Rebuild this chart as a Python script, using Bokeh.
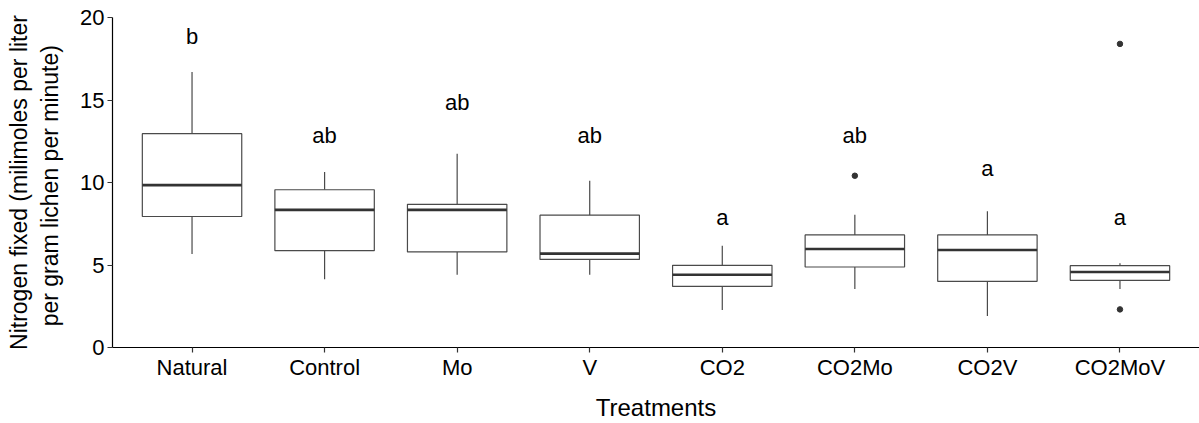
from bokeh.plotting import figure
from bokeh.models import Range1d, ColumnDataSource, FixedTicker
from bokeh.embed import file_html
from bokeh.resources import INLINE
from bokeh.core.properties import value

treatments = ["Natural", "Control", "Mo", "V", "CO2", "CO2Mo", "CO2V", "CO2MoV"]
whisker_low = [5.67, 4.13, 4.41, 4.41, 2.27, 3.55, 1.91, 3.55]
q1 = [7.94, 5.87, 5.79, 5.34, 3.70, 4.88, 4.01, 4.07]
median = [9.84, 8.34, 8.34, 5.69, 4.41, 5.97, 5.91, 4.58]
q3 = [12.96, 9.56, 8.68, 8.02, 4.98, 6.82, 6.82, 4.96]
whisker_high = [16.70, 10.63, 11.74, 10.10, 6.17, 8.04, 8.26, 5.10]
outlier_group = ["CO2Mo", "CO2MoV", "CO2MoV"]
outlier_value = [10.41, 18.40, 2.31]
letters = ["b", "ab", "ab", "ab", "a", "ab", "a", "a"]
letter_y = [18.32, 12.31, 14.33, 12.31, 7.35, 12.31, 10.32, 7.35]

FONT = "Liberation Sans"
EDGE = "#4a4a4a"
MED = "#333333"
BOX_W = 0.75

pos = [i + 1 for i in range(len(treatments))]
src = ColumnDataSource(dict(x=pos, wl=whisker_low, q1=q1, med=median, q3=q3,
                            wh=whisker_high, lab=letters, ly=letter_y,
                            xl=[v - BOX_W / 2 for v in pos],
                            xr=[v + BOX_W / 2 for v in pos]))
out_x = [treatments.index(g) + 1 for g in outlier_group]

p = figure(width=1199, height=423, output_backend="svg", toolbar_location=None,
           x_range=Range1d(0.4, 8.6), y_range=Range1d(0, 20),
           min_border_left=112, min_border_right=0, min_border_top=17,
           min_border_bottom=76)
p.outline_line_color = None
p.xgrid.grid_line_color = None
p.ygrid.grid_line_color = None

# whiskers
p.segment(x0="x", y0="q3", x1="x", y1="wh", source=src, line_color=EDGE, line_width=1.2)
p.segment(x0="x", y0="wl", x1="x", y1="q1", source=src, line_color=EDGE, line_width=1.2)
# boxes
p.vbar(x="x", top="q3", bottom="q1", width=BOX_W, source=src,
       fill_color="white", line_color=EDGE, line_width=1.2)
# medians
p.segment(x0="xl", y0="med", x1="xr", y1="med", source=src, line_color=MED, line_width=2.6)
# outliers
p.scatter(x=out_x, y=outlier_value, size=5.5, fill_color=MED, line_color=MED)
# significance letters
p.text(x="x", y="ly", text="lab", source=src, text_align="center",
       text_baseline="alphabetic", text_font=value(FONT), text_font_size="22px",
       text_color="black", y_offset=-9)

for ax in (p.xaxis[0], p.yaxis[0]):
    ax.axis_line_color = "black"
    ax.axis_line_width = 1.2
    ax.major_tick_line_color = MED
    ax.major_tick_line_width = 1.2
    ax.major_tick_in = 0
    ax.major_tick_out = 5
    ax.minor_tick_line_color = None
    ax.major_label_text_font = FONT
    ax.major_label_text_font_size = "22px"
    ax.major_label_text_color = "black"
    ax.axis_label_text_font = FONT
    ax.axis_label_text_font_style = "normal"
    ax.axis_label_text_color = "black"

p.xaxis.ticker = FixedTicker(ticks=pos)
p.xaxis.major_label_overrides = {v: t for v, t in zip(pos, treatments)}
p.yaxis.ticker = FixedTicker(ticks=[0, 5, 10, 15, 20])
p.yaxis.major_label_standoff = 3
p.xaxis.major_label_standoff = 2
p.xaxis.axis_label = "Treatments"
p.xaxis.axis_label_text_font_size = "24px"
p.xaxis.axis_label_standoff = 11
p.yaxis.axis_label = "Nitrogen fixed (milimoles per liter\nper  gram lichen per minute)"
p.yaxis.axis_label_text_font_size = "23px"
p.yaxis.axis_label_standoff = 14

open("out.html", "w").write(file_html(p, INLINE))
